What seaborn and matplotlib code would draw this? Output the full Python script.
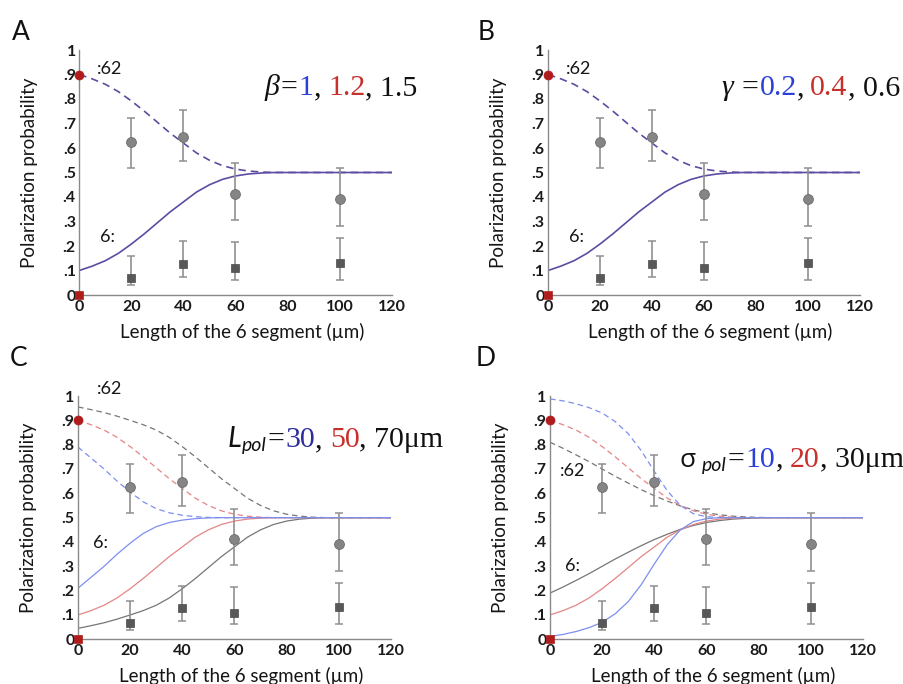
import matplotlib
matplotlib.use("Agg")
import matplotlib.pyplot as plt
import matplotlib.transforms as mtrans
import numpy as np
import seaborn as sns

# ---------------- data ----------------
x_model = [0, 5, 10, 15, 20, 25, 30, 35, 40, 45, 50, 55, 60, 65, 70, 75, 80,
           85, 90, 95, 100, 105, 110, 115, 120]

# reference curve (beta / gamma panels, L_pol=50, sigma_pol=20)
p6_ref = [0.100, 0.118, 0.140, 0.170, 0.208, 0.250, 0.295, 0.340, 0.380, 0.420,
          0.450, 0.472, 0.486, 0.494, 0.498, 0.500, 0.5, 0.5, 0.5, 0.5, 0.5, 0.5,
          0.5, 0.5, 0.5]
p62_ref = [0.900, 0.882, 0.860, 0.830, 0.792, 0.750, 0.705, 0.660, 0.620, 0.580,
           0.550, 0.528, 0.514, 0.506, 0.502, 0.500, 0.5, 0.5, 0.5, 0.5, 0.5, 0.5,
           0.5, 0.5, 0.5]
# L_pol = 30
p6_L30 = [0.210, 0.255, 0.300, 0.350, 0.395, 0.435, 0.463, 0.480, 0.490, 0.496,
          0.499, 0.5, 0.5, 0.5, 0.5, 0.5, 0.5, 0.5, 0.5, 0.5, 0.5, 0.5, 0.5, 0.5, 0.5]
p62_L30 = [0.790, 0.745, 0.700, 0.650, 0.605, 0.565, 0.537, 0.520, 0.510, 0.504,
           0.501, 0.5, 0.5, 0.5, 0.5, 0.5, 0.5, 0.5, 0.5, 0.5, 0.5, 0.5, 0.5, 0.5, 0.5]
# L_pol = 70
p6_L70 = [0.045, 0.056, 0.068, 0.083, 0.100, 0.118, 0.140, 0.170, 0.208, 0.250,
          0.295, 0.340, 0.380, 0.420, 0.450, 0.472, 0.486, 0.494, 0.498, 0.500,
          0.5, 0.5, 0.5, 0.5, 0.5]
p62_L70 = [0.955, 0.944, 0.932, 0.917, 0.900, 0.882, 0.860, 0.830, 0.792, 0.750,
           0.705, 0.660, 0.620, 0.580, 0.550, 0.528, 0.514, 0.506, 0.502, 0.500,
           0.5, 0.5, 0.5, 0.5, 0.5]
# sigma_pol = 10
p6_S10 = [0.012, 0.020, 0.032, 0.048, 0.070, 0.105, 0.155, 0.225, 0.310, 0.390,
          0.450, 0.484, 0.496, 0.500, 0.5, 0.5, 0.5, 0.5, 0.5, 0.5, 0.5, 0.5, 0.5,
          0.5, 0.5]
p62_S10 = [0.988, 0.980, 0.968, 0.952, 0.930, 0.895, 0.845, 0.775, 0.690, 0.610,
           0.550, 0.516, 0.504, 0.500, 0.5, 0.5, 0.5, 0.5, 0.5, 0.5, 0.5, 0.5, 0.5,
           0.5, 0.5]
# sigma_pol = 30
p6_S30 = [0.190, 0.215, 0.242, 0.270, 0.300, 0.330, 0.358, 0.385, 0.410, 0.432,
          0.452, 0.468, 0.480, 0.488, 0.494, 0.497, 0.499, 0.500, 0.5, 0.5, 0.5,
          0.5, 0.5, 0.5, 0.5]
p62_S30 = [0.810, 0.785, 0.758, 0.730, 0.700, 0.670, 0.642, 0.615, 0.590, 0.568,
           0.548, 0.532, 0.520, 0.512, 0.506, 0.503, 0.501, 0.500, 0.5, 0.5, 0.5,
           0.5, 0.5, 0.5, 0.5]

# measurements
lengths = [20, 40, 60, 100]
p62_mean = [0.625, 0.645, 0.412, 0.392]
p62_lo = [0.520, 0.546, 0.307, 0.280]
p62_hi = [0.722, 0.757, 0.537, 0.518]
p6_mean = [0.068, 0.128, 0.110, 0.131]
p6_lo = [0.040, 0.074, 0.063, 0.063]
p6_hi = [0.158, 0.220, 0.215, 0.232]
start_x = [0, 0]
start_y = [0.9, 0.0]

x_ticks = [0, 20, 40, 60, 80, 100, 120]
x_ticklabels = ["0", "20", "40", "60", "80", "100", "120"]
y_ticks = [0, .1, .2, .3, .4, .5, .6, .7, .8, .9, 1]
y_ticklabels = ["0", ".1", ".2", ".3", ".4", ".5", ".6", ".7", ".8", ".9", "1"]

# ---------------- style ----------------
sns.set_style("white")
plt.rcParams["font.family"] = ["Lato", "DejaVu Sans"]

W, H = 904, 684
fig = plt.figure(figsize=(W / 100, H / 100), dpi=100)
fig.patch.set_facecolor("white")

PURPLE = "#5e4ba2"
LBLUE = "#7d8ff0"
LRED = "#e58585"
GRAY = "#767676"
DARKRED = "#b01c1c"
BLUE_T = "#2a40d6"
NAVY_T = "#2c2e9e"
RED_T = "#c8302c"


def add_ax(x0, x1, ytop, ybot):
    return fig.add_axes([x0 / W, 1 - ybot / H, (x1 - x0) / W, (ybot - ytop) / H])


def style_ax(ax):
    ax.set_xlim(0, 120)
    ax.set_ylim(0, 1)
    for s in ["top", "right"]:
        ax.spines[s].set_visible(False)
    for s in ["left", "bottom"]:
        ax.spines[s].set_color("#8a8a8a")
        ax.spines[s].set_linewidth(1.0)
    ax.set_xticks(x_ticks)
    ax.set_xticklabels(x_ticklabels, fontweight="bold")
    ax.set_yticks(y_ticks)
    ax.set_yticklabels(y_ticklabels, fontweight="bold")
    ax.tick_params(axis="both", direction="in", length=3, width=0.8,
                   color="#b0b0b0", labelsize=11.5, labelcolor="#1a1a1a")
    ax.tick_params(axis="x", pad=3.5)
    ax.tick_params(axis="y", pad=2.5)
    ax.set_xlabel("Length of the 6 segment (µm)", fontsize=13.5, va="center",
                  color="#151515")
    ax.xaxis.set_label_coords(0.52, -0.152)
    ax.set_ylabel("Polarization probability", fontsize=13.5, va="center",
                  color="#151515")
    ax.yaxis.set_label_coords(-0.158, 0.5)


def draw_data(ax):
    m = np.array(p62_mean)
    ax.errorbar(lengths, p62_mean,
                yerr=[m - np.array(p62_lo), np.array(p62_hi) - m],
                fmt="none", ecolor="#909090", elinewidth=1.2, capsize=2.6,
                capthick=1.1, zorder=3)
    m6 = np.array(p6_mean)
    ax.errorbar(lengths, p6_mean,
                yerr=[m6 - np.array(p6_lo), np.array(p6_hi) - m6],
                fmt="none", ecolor="#909090", elinewidth=1.2, capsize=2.6,
                capthick=1.1, zorder=3)
    sns.scatterplot(x=lengths, y=p62_mean, ax=ax, marker="o", s=50,
                    color="#858585", edgecolor="#6a6a6a", linewidth=0.6, zorder=4)
    sns.scatterplot(x=lengths, y=p6_mean, ax=ax, marker="s", s=40,
                    color="#585858", edgecolor="#4a4a4a", linewidth=0.5, zorder=4)
    sns.scatterplot(x=start_x[:1], y=start_y[:1], ax=ax, marker="o", s=42,
                    color=DARKRED, edgecolor=DARKRED, linewidth=0.5, zorder=6,
                    clip_on=False)
    sns.scatterplot(x=start_x[1:], y=start_y[1:], ax=ax, marker="s", s=38,
                    color=DARKRED, edgecolor=DARKRED, linewidth=0.5, zorder=6,
                    clip_on=False)


def curve(ax, y, color, dashed=False, lw=1.0):
    kw = dict(linestyle=(0, (4.5, 3))) if dashed else {}
    sns.lineplot(x=x_model, y=y, ax=ax, color=color, lw=lw, zorder=2, **kw)


def rainbow(ax, x, y, pieces):
    r = fig.canvas.get_renderer()
    X, Y = ax.transData.transform((x, y))
    for s, color, fp, dx, dy in pieces:
        t = fig.text(X + dx, Y + dy, s, transform=mtrans.IdentityTransform(),
                     color=color, va="baseline", ha="left", **fp)
        bb = t.get_window_extent(renderer=r)
        X = bb.x1


serif = dict(family="Liberation Serif", size=21.5)
serif_it = dict(family="Liberation Serif", size=21.5, style="italic")
sans_it = dict(family="Lato", size=21, style="italic")
sub_it = dict(family="Lato", size=14, style="italic")
sigma_f = dict(family="Open Sans", size=19)
K = "#111111"
ann = dict(fontsize=13, color="#151515")

axA = add_ax(79.3, 391.7, 50, 295)
axB = add_ax(548, 860, 50, 295)
axC = add_ax(78, 391, 396, 639.3)
axD = add_ax(550, 863, 396, 639.3)

for ax in (axA, axB, axC, axD):
    style_ax(ax)

# Panels A and B: curves coincide for all parameter values
for ax in (axA, axB):
    curve(ax, p62_ref, PURPLE, dashed=True, lw=1.2)
    curve(ax, p6_ref, PURPLE, lw=1.2)
    draw_data(ax)

# Panel C
curve(axC, p62_L70, GRAY, dashed=True, lw=0.9)
curve(axC, p62_ref, LRED, dashed=True, lw=0.9)
curve(axC, p62_L30, LBLUE, dashed=True, lw=0.9)
curve(axC, p6_L70, GRAY, lw=0.9)
curve(axC, p6_ref, LRED, lw=0.9)
curve(axC, p6_L30, LBLUE, lw=0.9)
draw_data(axC)

# Panel D
curve(axD, p62_S30, GRAY, dashed=True, lw=0.9)
curve(axD, p62_ref, LRED, dashed=True, lw=0.9)
curve(axD, p62_S10, LBLUE, dashed=True, lw=0.9)
curve(axD, p6_S30, GRAY, lw=0.9)
curve(axD, p6_ref, LRED, lw=0.9)
curve(axD, p6_S10, LBLUE, lw=0.9)
draw_data(axD)

# isoform annotations
axA.text(6.8, 0.924, ":62", va="center", ha="left", **ann)
axA.text(8.0, 0.235, "6:", va="center", ha="left", **ann)
axB.text(6.8, 0.924, ":62", va="center", ha="left", **ann)
axB.text(8.0, 0.235, "6:", va="center", ha="left", **ann)
axC.text(7.2, 1.03, ":62", va="center", ha="left", clip_on=False, **ann)
axC.text(5.7, 0.396, "6:", va="center", ha="left", **ann)
axD.text(3.8, 0.69, ":62", va="center", ha="left", **ann)
axD.text(5.8, 0.30, "6:", va="center", ha="left", **ann)

# parameter legends
rainbow(axA, 71.3, 0.816, [
    ("β", K, serif_it, 0, 0), ("=", K, serif, 1, 0), ("1", BLUE_T, serif, 1, 0),
    (",", K, serif, 0, 0), ("1.2", RED_T, serif, 7, 0), (", 1.5", K, serif, 0, 0)])
rainbow(axB, 66.9, 0.816, [
    ("γ", K, serif_it, 0, 0), ("=", K, serif, 8, 0), ("0.2", BLUE_T, serif, 1, 0),
    (",", K, serif, 0, 0), ("0.4", RED_T, serif, 6, 0), (", 0.6", K, serif, 0, 0)])
rainbow(axC, 57.5, 0.79, [
    ("L", K, sans_it, 0, 0), ("pol", K, sub_it, 0, -4), ("=", K, serif, 1, 0),
    ("30", NAVY_T, serif, 1, 0), (",", K, serif, 0, 0), ("50", RED_T, serif, 7, 0),
    (", 70μm", K, serif, 0, 0)])
rainbow(axD, 49.8, 0.71, [
    ("σ", K, sigma_f, 0, 0), ("pol", K, sub_it, 6, -4), ("=", K, serif, 1, 0),
    ("10", BLUE_T, serif, 1, 0), (",", K, serif, 0, 0), ("20", RED_T, serif, 7, 0),
    (", 30μm", K, serif, 0, 0)])

# panel letters
for lab, px, py in [("A", 12, 33), ("B", 478, 33), ("C", 10, 358), ("D", 476, 358)]:
    fig.text(px / W, 1 - py / H, lab, fontsize=19, va="center", ha="left",
             color="#111111")

fig.savefig("out.png", dpi=100, facecolor="white")
